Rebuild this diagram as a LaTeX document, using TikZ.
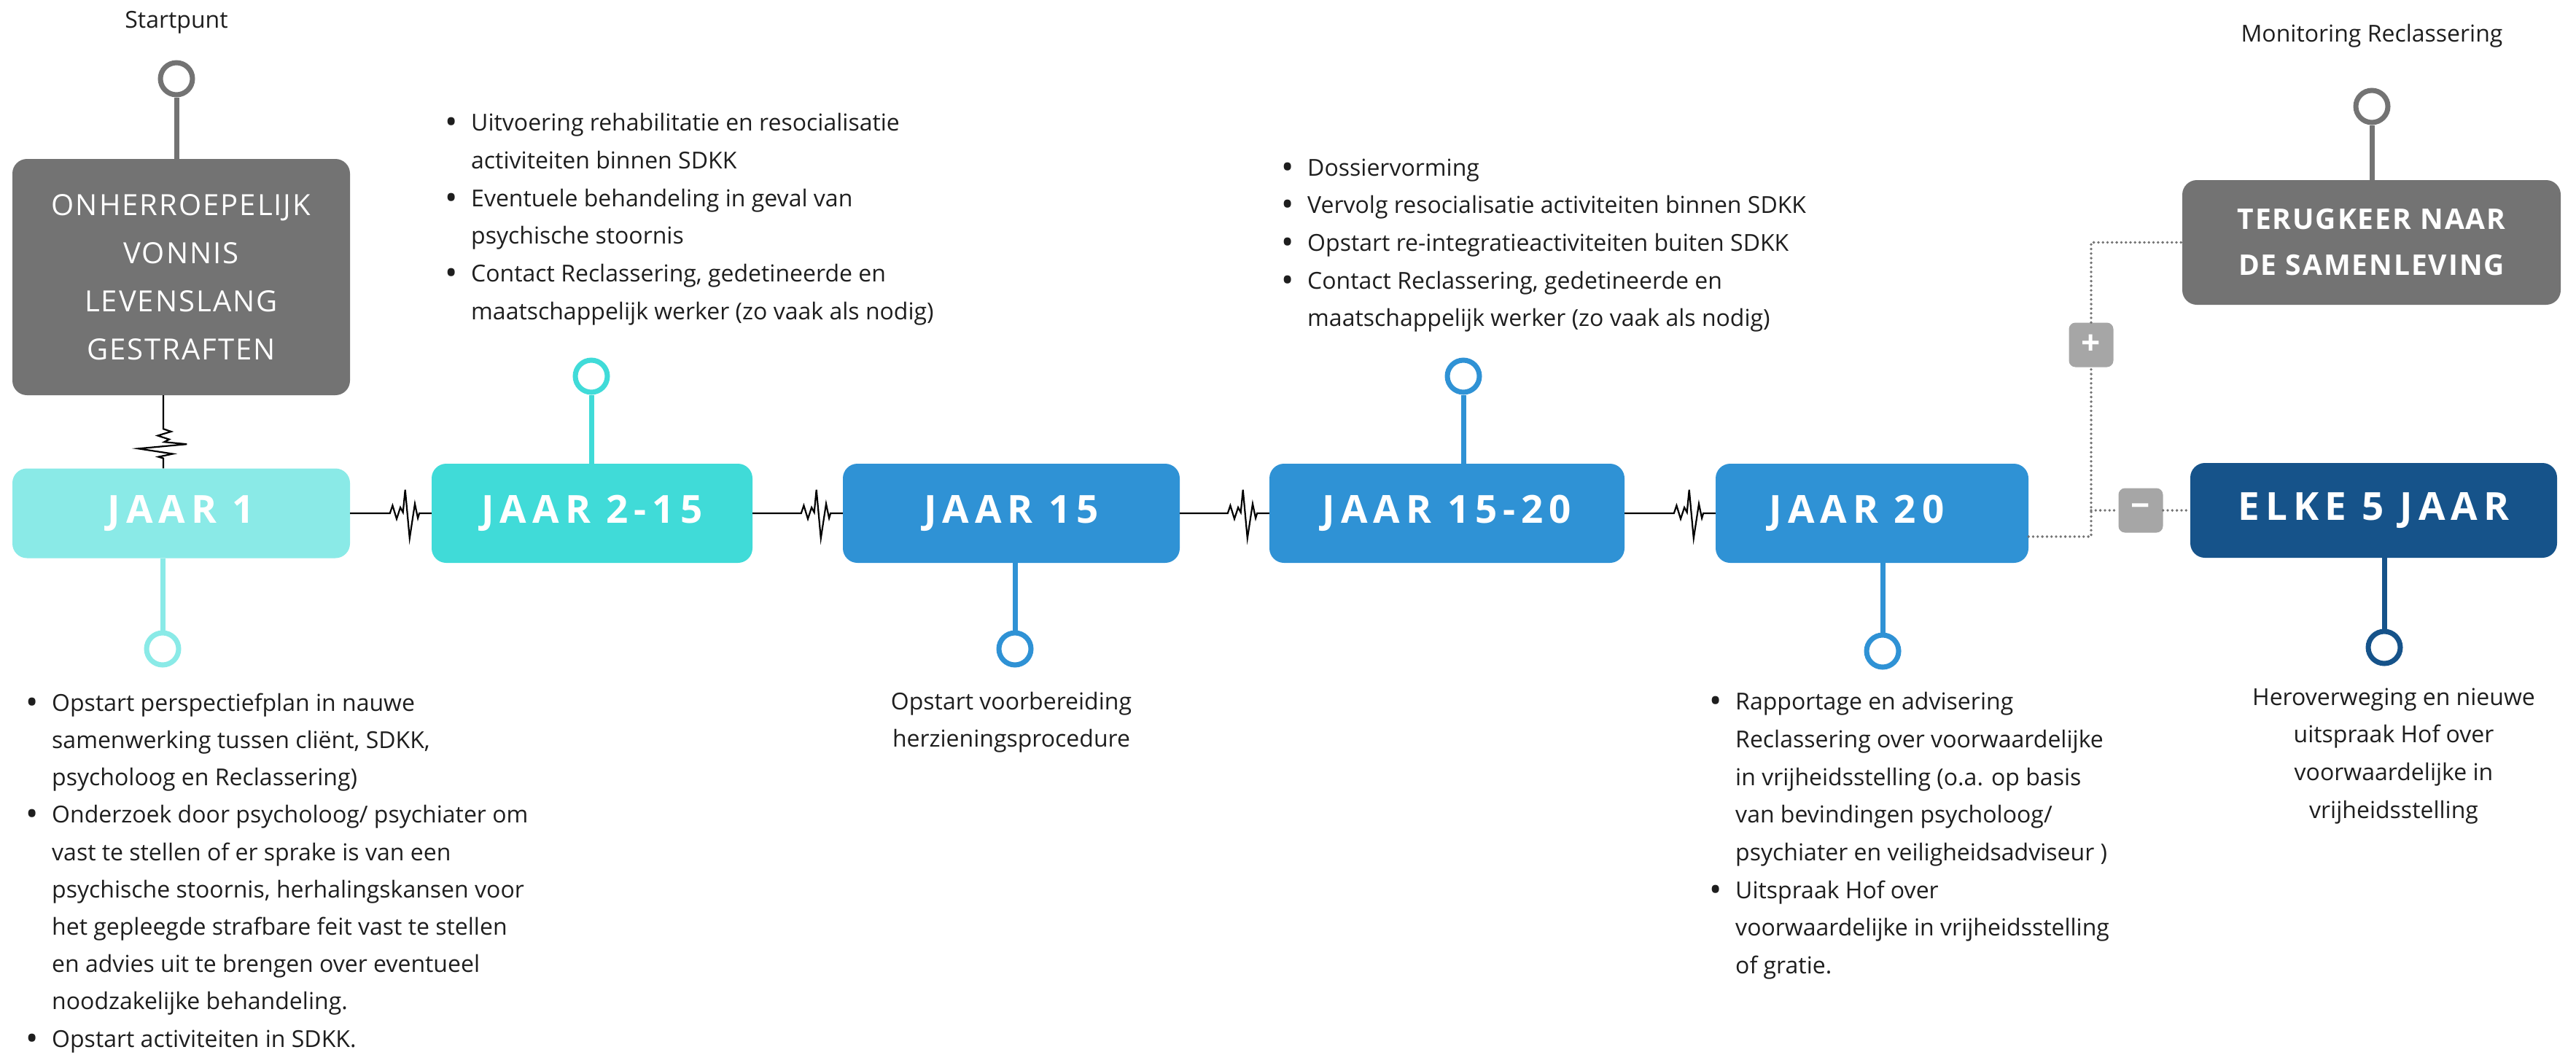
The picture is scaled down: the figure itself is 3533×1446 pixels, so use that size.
\documentclass[tikz,border=0pt]{standalone}
\usepackage{fontspec}
\setmainfont{Open Sans}
\newfontfamily\yearfont[LetterSpace=15]{Open Sans}
\newfontfamily\headfont[LetterSpace=5]{Open Sans}
\usetikzlibrary{calc}

\definecolor{slate}{RGB}{115,115,115}
\definecolor{jone} {RGB}{138,234,231}
\definecolor{jtwo} {RGB}{64,219,216}
\definecolor{jblue}{RGB}{47,146,213}
\definecolor{jdark}{RGB}{22,83,138}
\definecolor{signgray}{RGB}{166,166,166}
\definecolor{ink}  {RGB}{30,30,30}

\tikzset{
    year/.style={rounded corners=20pt, minimum height=136pt, inner sep=0pt, text=white,
        font=\yearfont\bfseries\fontsize{53}{60}\selectfont},
    stage/.style={rounded corners=20pt, inner sep=0pt, text=white, align=center},
    ring/.style={circle, draw=#1, fill=white, line width=7pt, minimum size=44pt, inner sep=0pt},
    stem/.style={line width=7pt},
    beat/.style={line width=2.2pt, draw=black, line join=miter},
    dots/.style={line width=3.8pt, dash pattern=on 0pt off 6.3pt, line cap=round, draw=slate},
    sign/.style={fill=signgray, rounded corners=9pt, minimum size=61pt, inner sep=0pt, text=white,
        font=\bfseries\fontsize{46}{46}\selectfont},
    note/.style={text=ink, font=\fontsize{32}{51.7}\selectfont, align=left, anchor=north west, inner sep=0pt},
    tag/.style={text=ink, font=\fontsize{32}{40}\selectfont, anchor=base, inner sep=0pt}
}

\newcommand{\itm}{\makebox[36pt][l]{\raisebox{-4pt}{\fontsize{46}{46}\selectfont\textbullet}}}
\newcommand{\nxt}{\hspace*{36pt}}
\newcommand{\hbeat}[2]{\draw[beat] (#1.east) -- ($(#2.west)+(-57,0)$) -- +(3.6,-10.7) -- +(9.2,7.7)
    -- +(14.3,-8) -- +(17.9,-1.3) -- +(20.9,-32.3) -- +(27,34.3) -- +(34.2,-13) -- +(38.3,6.7)
    -- +(40.3,0) -- (#2.west);}

\begin{document}
\begin{tikzpicture}[x=1pt, y=-1pt]

    \useasboundingbox (0,0) rectangle (3533,1446);

    \node[stage, fill=slate, minimum width=463pt, minimum height=324pt,
        font=\headfont\fontsize{40}{66}\selectfont] (start) at (248.5,380)
        {ONHERROEPELIJK\\VONNIS\\LEVENSLANG\\GESTRAFTEN};
    \node[stage, fill=slate, minimum width=519pt, minimum height=171pt,
        font=\headfont\bfseries\fontsize{39}{63}\selectfont] (terug) at (3252.5,332.5)
        {TERUGKEER NAAR\\DE SAMENLEVING};

    \node[year, fill=jone, minimum width=463pt, minimum height=123pt] (jaar1) at (248.5,704) {JAAR 1};
    \node[year, fill=jtwo, minimum width=440pt] (jaar2) at (812,704) {JAAR 2-15};
    \node[year, fill=jblue, minimum width=462pt] (jaar15) at (1387,704) {JAAR 15};
    \node[year, fill=jblue, minimum width=487pt] (jaar1520) at (1984.5,704) {JAAR 15-20};
    \node[year, fill=jblue, minimum width=429pt] (jaar20) at (2567.5,704) {JAAR 20\hspace*{42pt}};
    \node[year, fill=jdark, minimum width=503pt, minimum height=130pt] (elke) at (3255.5,700) {ELKE 5 JAAR};

    \node[ring=slate] (p0) at (242,108) {};
    \node[ring=jone]  (p1) at (223,890) {};
    \node[ring=jtwo]  (p2) at (811,516) {};
    \node[ring=jblue] (p3) at (1392,890) {};
    \node[ring=jblue] (p4) at (2007,516) {};
    \node[ring=jblue] (p5) at (2582,893) {};
    \node[ring=jdark] (p6) at (3270,888) {};
    \node[ring=slate] (p7) at (3253,146) {};

    \draw[stem, slate] (p0.south) -- (p0.south |- start.north);
    \draw[stem, jone]  (jaar1.south -| p1) -- (p1.north);
    \draw[stem, jtwo]  (p2.south) -- (p2.south |- jaar2.north);
    \draw[stem, jblue] (jaar15.south -| p3) -- (p3.north);
    \draw[stem, jblue] (p4.south) -- (p4.south |- jaar1520.north);
    \draw[stem, jblue] (jaar20.south -| p5) -- (p5.north);
    \draw[stem, jdark] (elke.south -| p6) -- (p6.north);
    \draw[stem, slate] (p7.south) -- (p7.south |- terug.north);

    \draw[beat] ([xshift=-24.5pt]start.south) -- ($(jaar1.north)+(-24.5,-54)$) -- +(10.7,3.6)
        -- +(-7.7,9.2) -- +(8,14.3) -- +(1.3,17.9) -- +(32.3,20.9) -- +(-34.3,27) -- +(13,34.2)
        -- +(-6.7,38.3) -- +(0,40.3) -- ([xshift=-24.5pt]jaar1.north);
    \hbeat{jaar1}{jaar2}
    \hbeat{jaar2}{jaar15}
    \hbeat{jaar15}{jaar1520}
    \hbeat{jaar1520}{jaar20}

    \node[sign] (plus) at (2868,473) {+};
    \node[sign] (minus) at (2936,700) {−};
    \draw[dots] ($(jaar20.east)+(0,32)$) -| (plus.south);
    \draw[dots] (plus.north) |- (terug.west);
    \draw[dots] (plus.south |- minus.west) -- (minus.west);
    \draw[dots] (minus.east) -- (elke.west);

    \node[tag] (startpunt) at (242,38) {Startpunt};
    \node[tag] (monitor) at (3253,57) {Monitoring Reclassering};

    \node[note, font=\fontsize{32}{51.2}\selectfont] (t1) at (35,939.2) {\strut\itm Opstart perspectiefplan in nauwe\\
        \nxt samenwerking tussen cliënt, SDKK,\\
        \nxt psycholoog en Reclassering)\\
        \itm Onderzoek door psycholoog/ psychiater om\\
        \nxt vast te stellen of er sprake is van een\\
        \nxt psychische stoornis, herhalingskansen voor\\
        \nxt het gepleegde strafbare feit vast te stellen\\
        \nxt en advies uit te brengen over eventueel\\
        \nxt noodzakelijke behandeling.\\
        \itm Opstart activiteiten in SDKK.};
    \node[note] (t2) at (610,143.3) {\strut\itm Uitvoering rehabilitatie en resocialisatie\\
        \nxt activiteiten binnen SDKK\\
        \itm Eventuele behandeling in geval van\\
        \nxt psychische stoornis\\
        \itm Contact Reclassering, gedetineerde en\\
        \nxt maatschappelijk werker (zo vaak als nodig)};
    \node[note, anchor=north, align=center] (t3) at (1387,936.8)
        {\strut Opstart voorbereiding\\herzieningsprocedure};
    \node[note] (t4) at (1757,204.8) {\strut\itm Dossiervorming\\
        \itm Vervolg resocialisatie activiteiten binnen SDKK\\
        \itm Opstart re-integratieactiviteiten buiten SDKK\\
        \itm Contact Reclassering, gedetineerde en\\
        \nxt maatschappelijk werker (zo vaak als nodig)};
    \node[note] (t5) at (2344,937.3) {\strut\itm Rapportage en advisering\\
        \nxt Reclassering over voorwaardelijke\\
        \nxt in vrijheidsstelling (o.a. op basis\\
        \nxt van bevindingen psycholoog/\\
        \nxt psychiater en veiligheidsadviseur )\\
        \itm Uitspraak Hof over\\
        \nxt voorwaardelijke in vrijheidsstelling\\
        \nxt of gratie.};
    \node[note, anchor=north, align=center] (t6) at (3283,930.8)
        {\strut Heroverweging en nieuwe\\uitspraak Hof over\\voorwaardelijke in\\vrijheidsstelling};

\end{tikzpicture}
\end{document}
